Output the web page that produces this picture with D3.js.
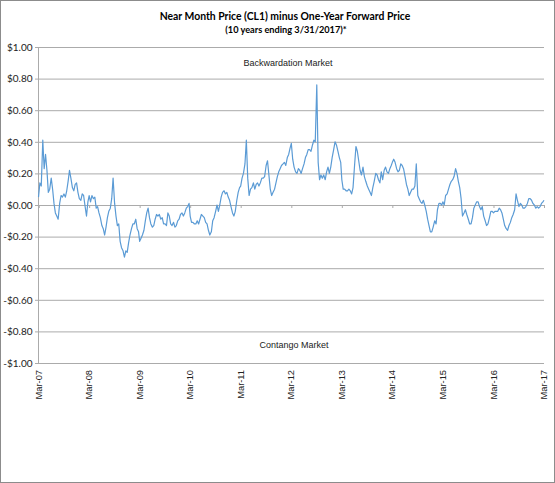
<!DOCTYPE html>
<html><head><meta charset="utf-8">
<script src="https://cdn.jsdelivr.net/npm/d3@7"></script>
<style>body{margin:0;background:#fff}svg{display:block}</style>
</head><body>
<svg id="chart" width="555" height="483"></svg>
<script>
// Values sampled on the 1st, 11th and 21st of each month, one array per year (Mar..Feb)
const y2007 = [0.05,0.14,0.12,0.41,0.23,0.32,0.22,0.08,0.10,0.17,0.10,0.01,-0.05,-0.07,-0.09,0.01,0.06,0.05,0.07,0.05,0.09,0.15,0.22,0.17,0.11,0.09,0.13,0.14,0.08,0.04,0.03,0.07,0.06,-0.01,-0.07,0.02];
const y2008 = [0.06,0.02,0.06,0.04,0.05,-0.02,-0.01,-0.05,-0.08,-0.13,-0.15,-0.19,-0.14,-0.08,-0.04,-0.02,0.04,0.17,0.01,-0.07,-0.13,-0.12,-0.23,-0.27,-0.29,-0.33,-0.29,-0.30,-0.24,-0.19,-0.15,-0.12,-0.12,-0.09,-0.15,-0.17];
const y2009 = [-0.23,-0.21,-0.19,-0.16,-0.10,-0.05,-0.02,-0.08,-0.12,-0.14,-0.13,-0.09,-0.06,-0.07,-0.06,-0.09,-0.08,-0.12,-0.12,-0.13,-0.05,-0.07,-0.12,-0.13,-0.11,-0.14,-0.13,-0.10,-0.09,-0.06,-0.05,-0.07,-0.05,-0.02,-0.01,0.01];
const y2010 = [-0.07,-0.11,-0.11,-0.12,-0.12,-0.10,-0.12,-0.09,-0.06,-0.07,-0.08,-0.11,-0.12,-0.16,-0.19,-0.17,-0.10,-0.08,-0.04,0.00,-0.04,0.00,0.05,0.08,0.09,0.07,0.08,0.05,0.03,-0.01,-0.05,-0.07,-0.04,0.03,0.08,0.11];
const y2011 = [0.12,0.17,0.20,0.26,0.41,0.17,0.06,0.10,0.11,0.14,0.10,0.13,0.14,0.12,0.14,0.17,0.17,0.18,0.25,0.28,0.19,0.10,0.06,0.08,0.10,0.14,0.18,0.21,0.23,0.25,0.26,0.27,0.25,0.30,0.32,0.36];
const y2012 = [0.39,0.29,0.24,0.21,0.20,0.23,0.22,0.20,0.23,0.26,0.30,0.32,0.35,0.35,0.34,0.38,0.41,0.40,0.76,0.27,0.16,0.19,0.17,0.19,0.16,0.21,0.24,0.20,0.24,0.30,0.35,0.40,0.38,0.34,0.30,0.27];
const y2013 = [0.16,0.10,0.10,0.09,0.09,0.10,0.09,0.07,0.11,0.25,0.37,0.34,0.28,0.22,0.19,0.24,0.18,0.15,0.12,0.10,0.08,0.06,0.11,0.15,0.20,0.19,0.16,0.14,0.21,0.16,0.22,0.24,0.21,0.20,0.23,0.25];
const y2014 = [0.27,0.29,0.27,0.23,0.21,0.22,0.26,0.25,0.23,0.18,0.13,0.10,0.06,0.08,0.10,0.10,0.12,0.26,0.06,0.04,0.02,0.01,0.03,0.00,-0.04,-0.09,-0.13,-0.17,-0.17,-0.14,-0.10,-0.12,-0.03,0.01,0.01,0.00];
const y2015 = [0.02,0.00,0.06,0.07,0.10,0.13,0.15,0.16,0.18,0.23,0.20,0.15,0.11,0.04,-0.07,-0.05,-0.03,-0.06,-0.09,-0.12,-0.12,-0.08,-0.02,0.00,0.02,0.02,-0.01,-0.03,-0.01,-0.07,-0.10,-0.13,-0.12,-0.08,-0.04,-0.04];
const y2016 = [-0.05,-0.04,-0.04,-0.04,-0.02,-0.03,-0.05,-0.09,-0.13,-0.15,-0.16,-0.13,-0.11,-0.08,-0.06,-0.03,0.07,0.03,-0.01,0.01,0.00,-0.02,-0.02,-0.01,0.01,0.04,0.04,0.03,0.01,0.00,-0.02,-0.01,-0.02,-0.01,0.01,0.02];
const y2017 = [0.03];

const yTickValues = [1.0,0.8,0.6,0.4,0.2,0.0,-0.2,-0.4,-0.6,-0.8,-1.0];
const xTickLabels = ["Mar-07","Mar-08","Mar-09","Mar-10","Mar-11","Mar-12","Mar-13","Mar-14","Mar-15","Mar-16","Mar-17"];
const titleText = "Near Month Price (CL1) minus One-Year Forward Price";
const subtitleText = "(10 years ending 3/31/2017)*";
const topNote = "Backwardation Market";
const bottomNote = "Contango Market";

const values = [].concat(y2007,y2008,y2009,y2010,y2011,y2012,y2013,y2014,y2015,y2016,y2017);
const data = values.map((v,i)=>({date:new Date(2007, 2 + Math.floor(i/3), 1 + 10*(i%3)), v}));
const xTickDates = xTickLabels.map((_,k)=>new Date(2007+k,2,1));

const svg = d3.select("#chart");
const L = 38.5, R = 544, T = 47, B = 363;
const x = d3.scaleTime().domain([xTickDates[0], xTickDates[xTickDates.length-1]]).range([L,R]);
const y = d3.scaleLinear().domain([-1,1]).range([B,T]);

svg.append("rect").attr("x",0.5).attr("y",0.5).attr("width",554).attr("height",482)
  .attr("fill","#fff").attr("stroke","#8c8c8c");

svg.append("text").attr("x",285).attr("y",20).attr("text-anchor","middle")
  .attr("font-family","Lato, 'Open Sans', sans-serif").attr("font-weight","bold").attr("font-size",10.4)
  .text(titleText);
svg.append("text").attr("x",286).attr("y",33).attr("text-anchor","middle")
  .attr("font-family","Lato, 'Open Sans', sans-serif").attr("font-weight","bold").attr("font-size",9.2)
  .text(subtitleText);

// gridlines + y axis
const yAxis = d3.axisLeft(y).tickValues(yTickValues).tickSize(-(R-L)).tickPadding(6)
  .tickFormat(d=> (d<0?"-":"") + "$" + Math.abs(d).toFixed(2));
const gy = svg.append("g").attr("transform",`translate(${L},0)`).call(yAxis);
gy.select(".domain").remove();
gy.selectAll(".tick line").attr("stroke","#ababab").attr("x1",-3.5);
gy.selectAll(".tick text").attr("font-family","Lato, 'Open Sans', sans-serif").attr("font-size",10).attr("fill","#222").attr("x",-6);
svg.append("line").attr("x1",L).attr("x2",L).attr("y1",T).attr("y2",B).attr("stroke","#ababab");

// x axis on zero line
const xAxis = d3.axisBottom(x).tickValues(xTickDates).tickSize(3).tickFormat("");
const gx = svg.append("g").attr("transform",`translate(0,${y(0)})`).call(xAxis);
gx.select(".domain").attr("stroke","#ababab");
gx.selectAll(".tick line").attr("stroke","#ababab");

svg.append("g").selectAll("text").data(xTickDates).join("text")
  .attr("transform",d=>`translate(${x(d)},370) rotate(-90)`)
  .attr("text-anchor","end").attr("dy","0.33em")
  .attr("font-family","'Liberation Sans', Arial, sans-serif").attr("font-size",9.3).attr("fill","#222")
  .text((d,i)=>xTickLabels[i]);

svg.append("text").attr("x",288).attr("y",66).attr("text-anchor","middle")
  .attr("font-family","'Liberation Sans', Arial, sans-serif").attr("font-size",9).attr("fill","#222").text(topNote);
svg.append("text").attr("x",294).attr("y",348).attr("text-anchor","middle")
  .attr("font-family","'Liberation Sans', Arial, sans-serif").attr("font-size",9).attr("fill","#222").text(bottomNote);

const line = d3.line().x(d=>x(d.date)).y(d=>y(d.v));
svg.append("path").datum(data).attr("d",line).attr("fill","none")
  .attr("stroke","#5b9bd5").attr("stroke-width",1.2).attr("stroke-linejoin","round");
</script>
</body></html>
